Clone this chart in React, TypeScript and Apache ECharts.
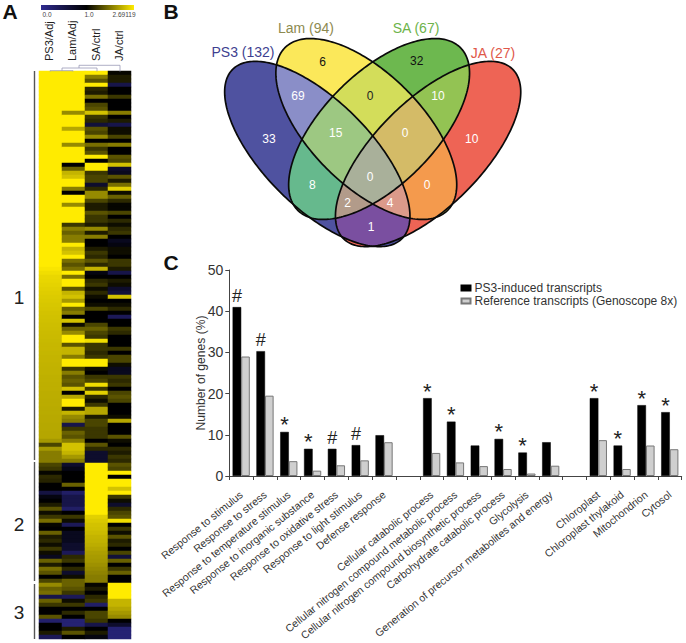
import React, { useEffect, useRef } from "react";
import * as echarts from "echarts";

const FONT = "'Liberation Sans', Arial, sans-serif";

// Panel A: expression ratios, one value per transcript row
const heatColumns = ["PS3/Adj", "Lam/Adj", "SA/ctrl", "JA/ctrl"];
const ps3Adj = [
  2.69, 2.69, 2.69, 2.69, 2.69, 2.69, 2.69, 2.69, 2.69, 2.69,
  2.69, 2.69, 2.69, 2.69, 2.69, 2.69, 2.69, 2.69, 2.69, 2.69,
  2.69, 2.69, 2.69, 2.69, 2.69, 2.69, 2.69, 2.69, 2.69, 2.69,
  2.69, 2.69, 2.69, 2.69, 2.69, 2.69, 2.69, 2.69, 2.69, 2.69,
  2.69, 2.69, 2.69, 2.69, 2.69, 2.69, 2.69, 2.69, 2.69, 2.65,
  2.6, 2.55, 2.54, 2.52, 2.5, 2.48, 2.46, 2.45, 2.43, 2.42,
  2.4, 2.39, 2.38, 2.37, 2.36, 2.35, 2.34, 2.33, 2.32, 2.32,
  2.31, 2.3, 2.3, 2.29, 2.28, 2.28, 2.27, 2.27, 2.26, 2.26,
  2.25, 2.25, 2.24, 2.24, 2.23, 2.23, 2.22, 2.22, 2.21, 2.21,
  2.2, 2.2, 2.1, 1.5, 2.1, 1.9, 1.9, 1.9, 1.5, 1.4,
  1.05, 1.3, 1.25, 1.0, 1.0, 0.55, 0.9, 1.0, 1.2, 1.6,
  1.1, 1.4, 1.8, 1.05, 1.0, 1.7, 1.2, 1.3, 1.1, 1.4,
  1.1, 0.8, 1.7, 1.2, 1.8, 1.6, 1.0, 1.5, 2.0, 1.7,
  1.8, 0.5, 1.7, 1.4, 1.0, 1.0, 1.6, 0.25, 1.0, 1.0,
  1.2, 0.4,
];
const lamAdj = [
  2.69, 2.69, 2.69, 2.69, 2.69, 2.69, 2.69, 2.69, 2.69, 2.69,
  2.0, 2.69, 2.69, 2.69, 2.2, 2.69, 2.69, 2.69, 2.0, 2.69,
  2.69, 2.69, 2.69, 1.0, 1.7, 2.3, 2.4, 2.69, 2.69, 1.9,
  1.0, 2.69, 2.69, 2.0, 2.69, 2.69, 2.69, 2.69, 1.4, 1.9,
  1.7, 1.9, 1.9, 2.69, 2.3, 2.4, 2.69, 1.8, 1.6, 1.8,
  2.69, 1.8, 2.69, 2.69, 1.6, 2.3, 2.4, 2.1, 2.69, 1.7,
  1.9, 1.0, 2.4, 1.1, 1.7, 2.0, 2.69, 2.69, 1.6, 2.3,
  2.3, 1.9, 2.69, 2.69, 1.4, 1.9, 1.6, 1.7, 1.6, 2.4,
  1.0, 2.2, 2.69, 2.69, 1.2, 2.3, 2.0, 1.9, 0.5, 1.4,
  1.7, 1.6, 1.9, 2.4, 2.4, 2.3, 2.1, 1.9, 0.7, 0.85,
  1.0, 1.0, 1.0, 1.7, 1.0, 0.3, 0.5, 0.5, 0.5, 0.3,
  1.0, 1.4, 1.1, 0.4, 1.0, 0.8, 0.8, 0.8, 0.7, 0.7,
  0.4, 1.3, 1.4, 1.0, 1.3, 0.7, 1.1, 1.7, 1.7, 1.6,
  1.4, 0.4, 1.1, 1.4, 1.0, 1.3, 1.0, 0.2, 0.2, 1.2,
  1.6, 1.0,
];
const saCtrl = [
  2.69, 1.9, 1.6, 2.69, 1.3, 1.2, 1.8, 1.0, 1.5, 1.6,
  2.4, 1.4, 1.3, 0.6, 1.6, 1.5, 2.0, 1.0, 1.8, 1.4,
  1.6, 2.69, 1.0, 2.69, 2.69, 1.4, 1.5, 1.5, 0.7, 1.3,
  2.0, 2.0, 1.5, 1.2, 1.2, 1.6, 1.4, 1.4, 1.2, 2.0,
  1.2, 1.9, 1.0, 1.0, 1.2, 1.4, 1.3, 1.6, 1.3, 2.3,
  0.9, 1.0, 1.3, 1.4, 1.1, 1.3, 1.1, 1.0, 1.1, 1.5,
  1.0, 1.0, 1.0, 1.5, 1.7, 1.5, 1.4, 2.6, 1.4, 1.4,
  1.3, 1.4, 2.69, 2.69, 1.1, 1.0, 1.4, 1.5, 2.6, 1.4,
  2.5, 1.3, 1.1, 1.4, 2.2, 2.2, 1.2, 1.5, 1.5, 1.4,
  1.4, 1.4, 1.0, 1.6, 1.3, 0.7, 0.7, 0.7, 2.69, 2.69,
  2.69, 2.69, 2.69, 2.69, 2.69, 2.69, 2.69, 2.69, 2.69, 2.69,
  2.69, 2.5, 2.45, 2.4, 2.38, 2.35, 2.3, 2.28, 2.25, 2.2,
  2.15, 2.12, 2.1, 2.05, 2.0, 1.95, 1.9, 1.9, 1.05, 1.2,
  1.0, 1.3, 1.4, 0.3, 1.0, 1.5, 1.5, 1.4, 0.5, 1.0,
  1.2, 0.9,
];
const jaCtrl = [
  1.05, 1.2, 1.2, 0.5, 1.0, 1.0, 1.4, 1.0, 1.0, 1.0,
  1.9, 1.0, 1.2, 0.5, 1.1, 1.1, 1.5, 1.0, 1.9, 1.0,
  1.0, 1.6, 1.5, 2.4, 0.7, 0.8, 1.6, 1.2, 1.8, 2.5,
  1.1, 1.7, 1.3, 1.05, 1.05, 1.5, 1.0, 1.3, 1.1, 1.3,
  1.4, 1.0, 0.8, 0.9, 1.1, 1.1, 1.0, 1.4, 1.4, 1.2,
  0.5, 1.0, 1.2, 1.1, 0.7, 0.6, 2.4, 1.0, 1.1, 1.3,
  1.0, 0.4, 1.0, 1.0, 1.4, 1.3, 1.0, 1.0, 1.0, 1.4,
  1.0, 1.5, 1.5, 1.1, 0.8, 0.8, 1.4, 1.3, 1.4, 1.0,
  1.5, 1.6, 1.5, 1.0, 1.0, 1.0, 1.1, 2.2, 1.0, 1.0,
  1.0, 1.6, 1.1, 1.0, 1.3, 1.2, 1.4, 1.3, 1.6, 1.5,
  2.69, 1.0, 2.69, 2.69, 2.4, 2.69, 1.4, 1.1, 0.7, 1.3,
  1.5, 1.6, 2.6, 1.0, 1.4, 1.1, 1.6, 1.2, 1.3, 1.0,
  1.5, 0.6, 1.7, 1.0, 1.4, 1.7, 1.0, 1.0, 2.69, 2.69,
  2.69, 2.69, 2.3, 2.3, 2.2, 2.1, 2.0, 1.0, 0.7, 0.2,
  0.2, 0.2,
];
const heatStops = ["#2e2a90", "#1f1c60", "#0f0e30", "#000000", "#332f00", "#665e00", "#998d00", "#ccbc00", "#ffeb00"];
const scaleLabels = ["0.0", "1.0", "2.69119"];
const clusterLabels = ["1", "2", "3"];

// Panel B: Venn counts
const vennSets = ["PS3 (132)", "Lam (94)", "SA (67)", "JA (27)"];
const vennCounts = ["6", "32", "69", "0", "10", "33", "15", "0", "10", "8", "0", "0", "2", "4", "1"];

// Panel C: GO categories
const categories = [
  "Response to stimulus", "Response to stress", "Response to temperature stimulus",
  "Response to inorganic substance", "Response to oxidative stress", "Response to light stimulus",
  "Defense response", "", "Cellular catabolic process", "Cellular nitrogen compound metabolic process",
  "Cellular nitrogen compound biosynthetic process", "Carbohydrate catabolic process", "Glycolysis",
  "Generation of precursor metabolites and energy", "", "Chloroplast", "Chloroplast thylakoid",
  "Mitochondrion", "Cytosol",
];
const ps3Induced = [41, 30.3, 10.7, 6.6, 6.6, 7.5, 9.9, null, 18.9, 13.2, 7.4, 9.0, 5.7, 8.2, null, 18.9, 7.4, 17.2, 15.5];
const referenceSet = [29, 19.5, 3.6, 1.3, 2.6, 3.8, 8.2, null, 5.6, 3.3, 2.4, 1.7, 0.6, 2.5, null, 8.7, 1.7, 7.4, 6.5];
const markers = ["#", "#", "*", "*", "#", "#", "", "", "*", "*", "", "*", "*", "", "", "*", "*", "*", "*"];
const yTicks = { min: 0, max: 50, interval: 10 };

// ---- Venn geometry ----
type P = [number, number];
function ellipsePoly(cx: number, cy: number, a: number, b: number, deg: number): P[] {
  const th = (deg * Math.PI) / 180;
  const pts: P[] = [];
  for (let i = 0; i < 240; i++) {
    const t = (i / 240) * Math.PI * 2;
    pts.push([
      cx + a * Math.cos(t) * Math.cos(th) - b * Math.sin(t) * Math.sin(th),
      cy + a * Math.cos(t) * Math.sin(th) + b * Math.sin(t) * Math.cos(th),
    ]);
  }
  return pts;
}
function clip(subject: P[], clipper: P[]): P[] {
  let out = subject;
  for (let i = 0; i < clipper.length && out.length; i++) {
    const A = clipper[i];
    const B = clipper[(i + 1) % clipper.length];
    const side = (p: P) => (B[0] - A[0]) * (p[1] - A[1]) - (B[1] - A[1]) * (p[0] - A[0]);
    const input = out;
    out = [];
    for (let j = 0; j < input.length; j++) {
      const C = input[j];
      const D = input[(j + 1) % input.length];
      const sc = side(C);
      const sd = side(D);
      if (sc >= 0) out.push(C);
      if (sc >= 0 !== sd >= 0) {
        const k = sc / (sc - sd);
        out.push([C[0] + (D[0] - C[0]) * k, C[1] + (D[1] - C[1]) * k]);
      }
    }
  }
  return out;
}
const vennAxis = 372.7;
const vennShapes = [
  { cx: 317.3, cy: 154, a: 119.7, b: 53.3, deg: 45 },
  { cx: 366.3, cy: 129, a: 115, b: 56, deg: 45 },
  { cx: 2 * vennAxis - 366.3, cy: 129, a: 115, b: 56, deg: -45 },
  { cx: 2 * vennAxis - 317.3, cy: 154, a: 119.7, b: 53.3, deg: -45 },
];
const regionColors: Record<number, string> = {
  1: "#4f52a0", 2: "#fbe85a", 4: "#6db84f", 8: "#ee6455",
  3: "#8a8ec8", 6: "#d3dd5a", 12: "#93c353", 5: "#66b98d", 10: "#f49a4d", 9: "#7a4fa0",
  7: "#9dc882", 14: "#d4bb67", 13: "#b29b8a", 11: "#db9a8a", 15: "#a9b09a",
};
const vennCountPos: P[] = [
  [322.7, 61.7], [416.7, 61], [298, 96], [370, 96], [438, 96], [269, 139], [335.7, 133], [405, 133],
  [471.7, 139], [312.3, 185], [370, 176.7], [427, 185], [347.7, 203], [390, 203], [371, 226.7],
];
const vennCountColor = ["#111", "#111", "#fff", "#222", "#fff", "#fff", "#fff", "#fff", "#fff", "#fff", "#fff", "#fff", "#fff", "#fff", "#fff"];
const vennSetPos: P[] = [[243, 52], [306, 28], [416, 28], [493, 53]];
const vennSetColor = ["#3e3f90", "#8d8a50", "#6db34a", "#e0584a"];

function txt(text: string, x: number, y: number, fontSize: number, fill: string, extra: any = {}) {
  return {
    type: "text", x, y, z: 100,
    style: { text, fontSize, fill, fontFamily: FONT, align: "center", verticalAlign: "middle", ...extra.style },
    ...extra.el,
  };
}
function seg(x1: number, y1: number, x2: number, y2: number, stroke: string, lineWidth: number) {
  return { type: "line", z: 100, shape: { x1, y1, x2, y2 }, style: { stroke, lineWidth } };
}

function buildGraphic() {
  const g: any[] = [];
  // panel letters
  g.push(txt("A", 10, 11, 21, "#111", { style: { fontWeight: "bold" } }));
  g.push(txt("B", 171, 11, 21, "#111", { style: { fontWeight: "bold" } }));
  g.push(txt("C", 171, 262, 21, "#111", { style: { fontWeight: "bold" } }));
  // colour scale
  g.push({
    type: "rect", z: 100, shape: { x: 41, y: 5, width: 93, height: 5 },
    style: {
      fill: new echarts.graphic.LinearGradient(0, 0, 1, 0, [
        { offset: 0, color: "#2e2a90" }, { offset: 0.49, color: "#000" }, { offset: 1, color: "#ffeb00" },
      ]),
    },
  });
  [47, 89, 124].forEach((x, i) => g.push(txt(scaleLabels[i], x, 14.5, 6.5, "#444")));
  // column headers
  [49, 72, 96, 119].forEach((x, i) =>
    g.push(txt(heatColumns[i], x, 61, 11, "#222", { style: { align: "left" }, el: { rotation: Math.PI / 2 } }))
  );
  // dendrogram
  const dc = "#9a9ab8";
  [
    [50, 70.7, 73, 70.7], [50, 70.7, 50, 71.5], [73, 70.7, 73, 71.5],
    [62, 68, 97, 68], [62, 68, 62, 70.7], [97, 68, 97, 71.5],
    [79, 65.3, 120, 65.3], [79, 65.3, 79, 68], [120, 65.3, 120, 71.5],
  ].forEach((s) => g.push(seg(s[0], s[1], s[2], s[3], dc, 0.8)));
  // cluster brackets
  [[71, 460], [462, 581], [584, 639]].forEach((s) => g.push(seg(34.5, s[0], 34.5, s[1], "#555", 1.4)));
  [297, 524, 612].forEach((y, i) => g.push(txt(clusterLabels[i], 19, y, 19, "#222")));

  // venn fills, painted from single sets up to the four-way region
  const polys = vennShapes.map((s) => ellipsePoly(s.cx, s.cy, s.a, s.b, s.deg));
  const masks = Object.keys(regionColors).map(Number).sort((m, n) => bits(m) - bits(n));
  function bits(m: number) { return (m & 1) + ((m >> 1) & 1) + ((m >> 2) & 1) + ((m >> 3) & 1); }
  masks.forEach((m) => {
    let poly: P[] | null = null;
    polys.forEach((p, i) => {
      if (m & (1 << i)) poly = poly ? clip(poly, p) : p;
    });
    g.push({ type: "polygon", z: 50, shape: { points: poly }, style: { fill: regionColors[m] } });
  });
  polys.forEach((p) =>
    g.push({ type: "polygon", z: 60, shape: { points: p }, style: { fill: "none", stroke: "#0a0a0a", lineWidth: 1.7 } })
  );
  vennCounts.forEach((t, i) => g.push(txt(t, vennCountPos[i][0], vennCountPos[i][1], 12, vennCountColor[i])));
  vennSets.forEach((t, i) => g.push(txt(t, vennSetPos[i][0], vennSetPos[i][1], 14, vennSetColor[i])));
  return g;
}

export default function App() {
  const ref = useRef<HTMLDivElement>(null);
  useEffect(() => {
    document.body.style.margin = "0";
    const chart = echarts.init(ref.current!, null, { renderer: "svg" });
    const heatData: number[][] = [];
    [ps3Adj, lamAdj, saCtrl, jaCtrl].forEach((col, c) => col.forEach((v, r) => heatData.push([c, r, v])));
    const rowNames = ps3Adj.map((_, i) => String(i));
    const axisColor = "#444";
    chart.setOption({
      animation: false,
      backgroundColor: "#fff",
      textStyle: { fontFamily: FONT },
      grid: [
        { left: 39, top: 71, width: 92, height: 568, outerBoundsMode: "none" },
        { left: 229.3, top: 270, width: 452.4, height: 206, outerBoundsMode: "none" },
      ],
      xAxis: [
        { gridIndex: 0, type: "category", data: heatColumns, show: false },
        {
          gridIndex: 1, type: "category", data: categories,
          axisLine: { lineStyle: { color: axisColor, width: 1 } },
          axisTick: { show: true, length: 4, alignWithLabel: false, interval: 0, lineStyle: { color: axisColor } },
          axisLabel: { interval: 0, rotate: 39, margin: 17, fontSize: 10.6, color: "#333", fontFamily: FONT, hideOverlap: false },
        },
      ],
      yAxis: [
        { gridIndex: 0, type: "category", data: rowNames, inverse: true, show: false },
        {
          gridIndex: 1, type: "value", min: yTicks.min, max: yTicks.max, interval: yTicks.interval,
          name: "Number of genes (%)", nameLocation: "middle", nameGap: 22, nameMoveOverlap: false,
          nameTextStyle: { fontSize: 12.1, color: "#333", fontFamily: FONT },
          splitLine: { show: false },
          axisLine: { show: true, lineStyle: { color: axisColor, width: 1 } },
          axisTick: { show: true, length: 4, lineStyle: { color: axisColor } },
          axisLabel: { fontSize: 14, color: "#333", margin: 6, fontFamily: FONT },
        },
      ],
      visualMap: {
        show: false, type: "continuous", seriesIndex: 0, dimension: 2,
        min: 0, max: 2.69119, inRange: { color: heatStops },
      },
      legend: {
        left: 460.5, top: 282, orient: "vertical", itemWidth: 9, itemHeight: 5, itemGap: 1, padding: 0,
        textStyle: { fontSize: 12, color: "#333", fontFamily: FONT, padding: [0, 0, 0, -1] },
        data: [
          { name: "PS3-induced transcripts", icon: "rect" },
          { name: "Reference transcripts (Genoscope 8x)", icon: "rect" },
        ],
      },
      series: [
        {
          type: "heatmap", xAxisIndex: 0, yAxisIndex: 0, data: heatData, progressive: 0,
          itemStyle: { borderWidth: 0 },
        },
        {
          type: "bar", name: "PS3-induced transcripts", xAxisIndex: 1, yAxisIndex: 1,
          data: ps3Induced.map((v, i) => ({
            value: v,
            label: { distance: markers[i] === "*" ? -4 : 2, fontSize: markers[i] === "*" ? 22 : 18 },
          })),
          barWidth: 8.6, barGap: "0%",
          itemStyle: { color: "#000", borderColor: "#000", borderWidth: 0.5 },
          label: {
            show: true, position: "top", distance: 2, color: "#222", fontFamily: FONT,
            formatter: (p: any) => markers[p.dataIndex] || "",
          },
        },
        {
          type: "bar", name: "Reference transcripts (Genoscope 8x)", xAxisIndex: 1, yAxisIndex: 1,
          data: referenceSet, barWidth: 8.6, barGap: "0%",
          itemStyle: { color: "#cfcfcf", borderColor: "#777", borderWidth: 1 },
        },
      ],
      graphic: { elements: buildGraphic() },
    });
    return () => chart.dispose();
  }, []);
  return <div ref={ref} style={{ position: "absolute", left: 0, top: 0, width: 686, height: 643 }} />;
}
